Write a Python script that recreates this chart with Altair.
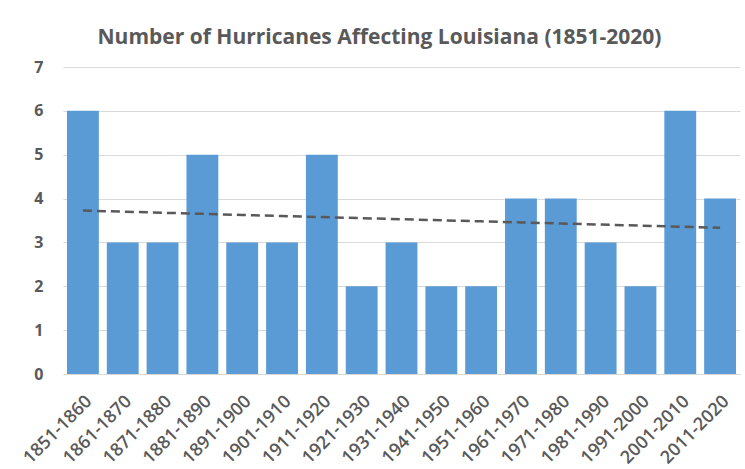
import altair as alt
import pandas as pd
import numpy as np

decades = ["1851-1860", "1861-1870", "1871-1880", "1881-1890", "1891-1900",
           "1901-1910", "1911-1920", "1921-1930", "1931-1940", "1941-1950",
           "1951-1960", "1961-1970", "1971-1980", "1981-1990", "1991-2000",
           "2001-2010", "2011-2020"]
counts = [6, 3, 3, 5, 3, 3, 5, 2, 3, 2, 2, 4, 4, 3, 2, 6, 4]

idx = np.arange(1, len(counts) + 1)
slope, intercept = np.polyfit(idx, counts, 1)
trend = list(intercept + slope * idx)

df = pd.DataFrame({"decade": decades, "count": counts, "trend": trend})

x_enc = alt.X("decade:N", sort=decades, title=None,
              scale=alt.Scale(paddingInner=0.2, paddingOuter=0.1),
              axis=alt.Axis(labelAngle=-45, labelAlign="right", labelBaseline="top",
                            labelFontSize=18, labelFontWeight=600, labelColor="#595959",
                            labelFont="Open Sans", ticks=False, domain=True,
                            domainColor="#D9D9D9", labelPadding=18, labelOffset=0,
                            labelOverlap=False))

bars = alt.Chart(df).mark_bar(color="#5B9BD5").encode(
    x=x_enc,
    y=alt.Y("count:Q", title=None,
            scale=alt.Scale(domain=[0, 7], nice=False),
            axis=alt.Axis(values=list(range(0, 8)), labelFontSize=16, labelFontWeight="bold",
                          labelColor="#595959", labelFont="Open Sans", ticks=False,
                          domain=False, grid=True, gridColor="#D9D9D9", labelPadding=20)),
)

line = alt.Chart(df).mark_line(color="#595959", strokeDash=[9, 5], strokeWidth=2.5).encode(
    x=alt.X("decade:N", sort=decades),
    y=alt.Y("trend:Q"),
)

chart = alt.layer(bars, line).properties(
    width=677, height=307,
    background="white",
    title=alt.TitleParams("Number of Hurricanes Affecting Louisiana (1851-2020)",
                          fontSize=21, fontWeight="bold", color="#595959", font="Open Sans",
                          anchor="middle", dx=-22, offset=11),
    autosize=alt.AutoSizeParams(type="none"),
    padding={"left": 63, "top": 67, "right": 5, "bottom": 95},
).configure_view(stroke=None)

chart.save("out.html", embed_options={"renderer": "svg", "actions": False})
